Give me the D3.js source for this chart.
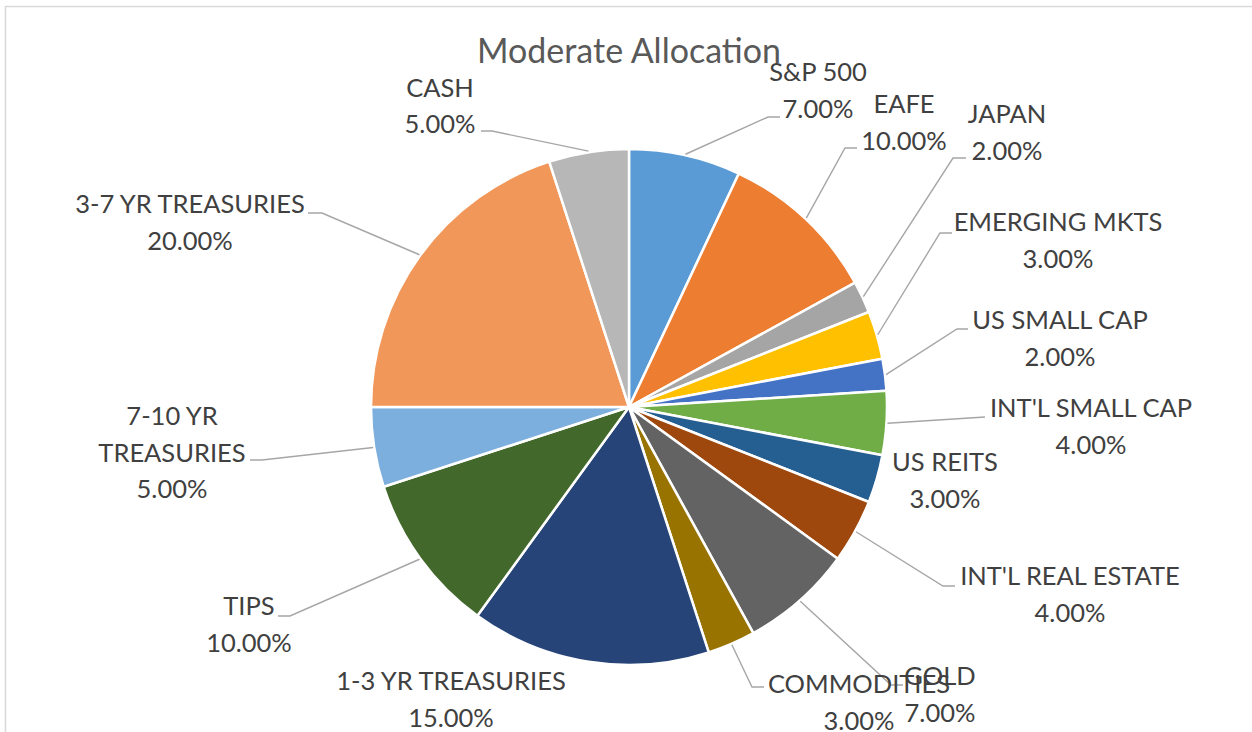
<!DOCTYPE html>
<html>
<head>
<meta charset="utf-8">
<script src="https://cdn.jsdelivr.net/npm/d3@7"></script>
<style>
  html, body { margin: 0; padding: 0; background: #ffffff; }
  svg { display: block; }
  text { font-family: Lato, "Open Sans", sans-serif; }
</style>
</head>
<body>
<svg id="chart" width="1252" height="732"></svg>
<script>
// Portfolio allocation, clockwise from 12 o'clock
const categories = [
  "S&P 500", "EAFE", "JAPAN", "EMERGING MKTS", "US SMALL CAP",
  "INT'L SMALL CAP", "US REITS", "INT'L REAL ESTATE", "GOLD", "COMMODITIES",
  "1-3 YR TREASURIES", "TIPS", "7-10 YR TREASURIES", "3-7 YR TREASURIES", "CASH"
];
const allocations = [7, 10, 2, 3, 2, 4, 3, 4, 7, 3, 15, 10, 5, 20, 5];
const title = "Moderate Allocation";

// Office-style slice colours
const sliceColors = [
  "#5B9BD5", "#ED7D31", "#A5A5A5", "#FFC000", "#4472C4",
  "#70AD47", "#255E91", "#9E480E", "#636363", "#997300",
  "#264478", "#43682B", "#7CAFDD", "#F1975A", "#B7B7B7"
];

// Label placement: text centre x, first-line centre y, leader elbow and end (null = no leader)
const labelLayout = [
  { x: 818,  y: 72,  elbow: [768, 117], end: [780, 117] },
  { x: 904,  y: 104, elbow: [845, 148], end: [857, 148] },
  { x: 1007, y: 114, elbow: [953, 158], end: [966, 158] },
  { x: 1058, y: 222, elbow: [940, 233], end: [952, 233] },
  { x: 1060, y: 320, elbow: [957, 329], end: [968, 329] },
  { x: 1091, y: 408, elbow: [985, 417], end: [985, 417] },
  { x: 945,  y: 462, elbow: null, end: null },
  { x: 1070, y: 576, elbow: [943, 586], end: [955, 586] },
  { x: 940,  y: 676, elbow: [891, 685], end: [903, 685] },
  { x: 859,  y: 684, elbow: [752, 687], end: [764, 687] },
  { x: 451,  y: 681, elbow: null, end: null },
  { x: 249,  y: 606, elbow: [290, 616], end: [278, 616] },
  { x: 172,  y: 416, elbow: [262, 460], end: [250, 460], lines: ["7-10 YR", "TREASURIES"] },
  { x: 190,  y: 204, elbow: [322, 213], end: [308, 213] },
  { x: 440,  y: 87.5, elbow: [492, 131], end: [481, 131] }
];

const W = 1252, H = 732;
const cx = 629, cy = 407, radius = 258;
const labelSize = 25.5, lineGap = 36.5;

const svg = d3.select("#chart");

// chart area frame
svg.append("path")
  .attr("d", `M5.5,${H + 2} V6.5 H${W + 2}`)
  .attr("fill", "none")
  .attr("stroke", "#d9d9d9")
  .attr("stroke-width", 1.6);

const data = categories.map((c, i) => ({ name: c, value: allocations[i], color: sliceColors[i], layout: labelLayout[i] }));

const pie = d3.pie().value(d => d.value).sort(null).startAngle(0).endAngle(2 * Math.PI);
const arcs = pie(data);
const arc = d3.arc().innerRadius(0).outerRadius(radius);

const g = svg.append("g").attr("transform", `translate(${cx},${cy})`);

g.selectAll("path.slice")
  .data(arcs)
  .join("path")
  .attr("class", "slice")
  .attr("d", arc)
  .attr("fill", d => d.data.color)
  .attr("stroke", "#ffffff")
  .attr("stroke-width", 2.5)
  .attr("stroke-linejoin", "round");

// leader lines from the slice rim at its mid-angle
const leaders = svg.append("g");
arcs.forEach(a => {
  const L = a.data.layout;
  if (!L.elbow) return;
  const mid = (a.startAngle + a.endAngle) / 2;
  const r0 = radius + 1;
  const sx = cx + r0 * Math.sin(mid), sy = cy - r0 * Math.cos(mid);
  leaders.append("path")
    .attr("d", d3.line()([[sx, sy], L.elbow, L.end]))
    .attr("fill", "none")
    .attr("stroke", "#a6a6a6")
    .attr("stroke-width", 1.4);
});

// data labels: category name then value
const fmt = d3.format(".2%");
const labels = svg.append("g")
  .attr("font-size", labelSize)
  .attr("fill", "#404040")
  .attr("text-anchor", "middle");

arcs.forEach(a => {
  const L = a.data.layout;
  const lines = (L.lines || [a.data.name]).concat([fmt(a.data.value / 100)]);
  const t = labels.append("text");
  lines.forEach((ln, k) => {
    t.append("tspan")
      .attr("x", L.x)
      .attr("y", L.y + k * lineGap + labelSize * 0.36)
      .text(ln);
  });
});

// title
svg.append("text")
  .attr("x", cx)
  .attr("y", 63)
  .attr("text-anchor", "middle")
  .attr("font-size", 34)
  .attr("fill", "#595959")
  .text(title);
</script>
</body>
</html>
